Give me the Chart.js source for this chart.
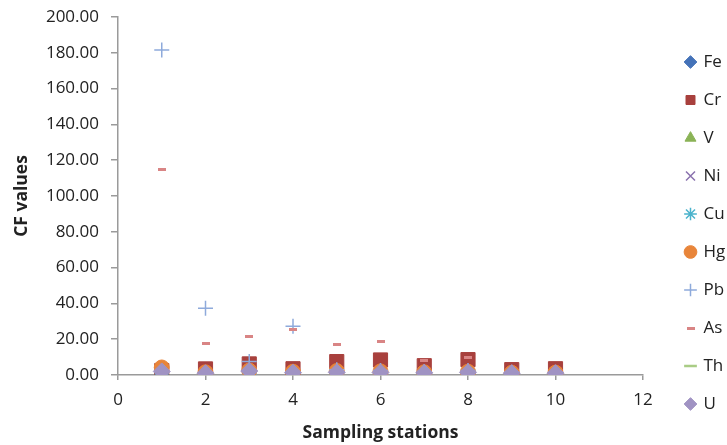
<!DOCTYPE html>
<html>
<head>
<meta charset="utf-8">
<script src="https://cdn.jsdelivr.net/npm/chart.js@4"></script>
<style>
  html, body { margin: 0; padding: 0; background: #fff; }
  #wrap { width: 727px; height: 445px; }
</style>
</head>
<body>
<div id="wrap"><canvas id="c" width="727" height="445"></canvas></div>
<script>
// ---- Data ----
const stations = [1, 2, 3, 4, 5, 6, 7, 8, 9, 10];
const seriesNames = ["Fe", "Cr", "V", "Ni", "Cu", "Hg", "Pb", "As", "Th", "U"];
const Fe = [1.2, 0.9, 1.1, 0.8, 1.0, 0.9, 0.8, 0.9, 0.7, 0.8];
const Cr = [2.5, 3.4, 6.2, 3.5, 7.5, 8.4, 5.2, 8.6, 3.0, 3.5];
const V  = [0.8, 0.6, 1.2, 0.7, 1.5, 1.3, 0.9, 1.4, 0.6, 0.7];
const Ni = [0.7, 0.5, 0.9, 0.6, 0.8, 0.8, 0.6, 0.8, 0.5, 0.6];
const Cu = [0.5, 0.4, 0.6, 0.5, 0.5, 0.5, 0.4, 0.5, 0.4, 0.4];
const Hg = [4.2, 1.5, 2.5, 1.8, 2.2, 2.0, 1.5, 1.8, 1.2, 1.3];
const Pb = [181.5, 37.3, 7.5, 27.2, 3.0, 2.5, 2.0, 2.5, 1.5, 1.5];
const As = [115.0, 17.8, 21.5, 25.3, 17.2, 18.5, 8.3, 9.5, 2.5, 2.0];
const Th = [1.0, 0.8, 1.5, 1.0, 1.2, 1.1, 0.9, 1.2, 0.7, 0.8];
const U  = [2.0, 1.0, 2.2, 1.3, 1.5, 1.4, 1.2, 1.5, 1.0, 1.0];
const yTicks = [0, 20, 40, 60, 80, 100, 120, 140, 160, 180, 200];
const xTicks = [0, 2, 4, 6, 8, 10, 12];

const values = [Fe, Cr, V, Ni, Cu, Hg, Pb, As, Th, U];

// small dash marker for As
function dash(w, h, color) {
  const cv = document.createElement('canvas');
  cv.width = w; cv.height = h;
  const cx = cv.getContext('2d');
  cx.fillStyle = color;
  cx.fillRect(0, 0, w, h);
  return cv;
}

const styles = [
  { color: '#4472B8', pointStyle: 'rectRot', radius: 7, bw: 1 },
  { color: '#A8403D', pointStyle: 'rect', radius: 10, bw: 1 },
  { color: '#8AB356', pointStyle: 'triangle', radius: 8, bw: 1 },
  { color: '#8A72AE', pointStyle: 'crossRot', radius: 7, bw: 1.5 },
  { color: '#4BB3CC', pointStyle: 'star', radius: 7, bw: 1.5 },
  { color: '#E8853A', pointStyle: 'circle', radius: 7.5, bw: 1 },
  { color: '#8EAADB', pointStyle: 'cross', radius: 7.5, bw: 1.5 },
  { color: '#D98585', pointStyle: dash(8, 3, '#D98585'), radius: 5, bw: 1 },
  { color: '#A9CC85', pointStyle: 'line', radius: 5.5, bw: 2.5 },
  { color: '#A093C3', pointStyle: 'rectRot', radius: 8.5, bw: 1 }
];

const n = seriesNames.length;
const datasets = seriesNames.map((name, i) => ({
  label: name,
  data: stations.map((s, k) => ({ x: s, y: values[i][k] })),
  pointStyle: styles[i].pointStyle,
  pointRadius: styles[i].radius,
  pointHoverRadius: styles[i].radius,
  backgroundColor: styles[i].color,
  borderColor: styles[i].color,
  borderWidth: styles[i].bw,
  pointBorderWidth: styles[i].bw,
  showLine: false,
  order: n - i
}));

const textColor = '#222222';
const axisColor = '#9a9a9a';
const fontFamily = '"Open Sans", "Noto Sans", sans-serif';

// nudge the legend column to sit where the reference places it
const legendNudge = {
  id: 'legendNudge',
  afterLayout(chart) {
    const lg = chart.legend;
    if (!lg) return;
    lg.left += 22; lg.right += 22;
    lg.top += 2; lg.bottom += 2;
  }
};

new Chart(document.getElementById('c'), {
  type: 'scatter',
  data: { datasets },
  plugins: [legendNudge],
  options: {
    responsive: false,
    animation: false,
    layout: { padding: { top: 17, left: 0, right: 0, bottom: 0 } },
    plugins: {
      tooltip: { enabled: false },
      legend: {
        position: 'right',
        labels: {
          usePointStyle: true,
          boxWidth: 9,
          boxHeight: 9,
          padding: 21,
          color: textColor,
          font: { family: fontFamily, size: 17 },
          sort: (a, b) => a.datasetIndex - b.datasetIndex
        }
      }
    },
    scales: {
      x: {
        type: 'linear',
        position: 'bottom',
        min: 0, max: 12,
        afterBuildTicks: (s) => { s.ticks = xTicks.map(v => ({ value: v })); },
        afterFit: (s) => { s.height = 70; s.paddingRight = 84; s.paddingLeft = 0; },
        ticks: { color: textColor, font: { family: fontFamily, size: 17 }, padding: 10, maxRotation: 0 },
        grid: { drawOnChartArea: false, drawTicks: true, tickLength: 5, color: axisColor, lineWidth: 1.5 },
        border: { color: axisColor, width: 1.5 },
        title: { display: true, text: 'Sampling stations', color: textColor,
                 font: { family: fontFamily, size: 17.5, weight: 'bold' }, padding: { top: 0, bottom: 1.5 } }
      },
      y: {
        type: 'linear',
        min: 0, max: 200,
        afterBuildTicks: (s) => { s.ticks = yTicks.map(v => ({ value: v })); },
        afterFit: (s) => { s.width = 118; s.paddingTop = 0; s.paddingBottom = 0; },
        ticks: { color: textColor, font: { family: fontFamily, size: 17 }, padding: 12,
                 callback: (v) => Number(v).toFixed(2) },
        grid: { drawOnChartArea: false, drawTicks: true, tickLength: 7, color: axisColor, lineWidth: 1.5 },
        border: { color: axisColor, width: 1.5 },
        title: { display: true, text: 'CF values', color: textColor,
                 font: { family: fontFamily, size: 17.5, weight: 'bold' }, padding: { top: 11.5, bottom: 0 } }
      }
    }
  }
});
</script>
</body>
</html>
